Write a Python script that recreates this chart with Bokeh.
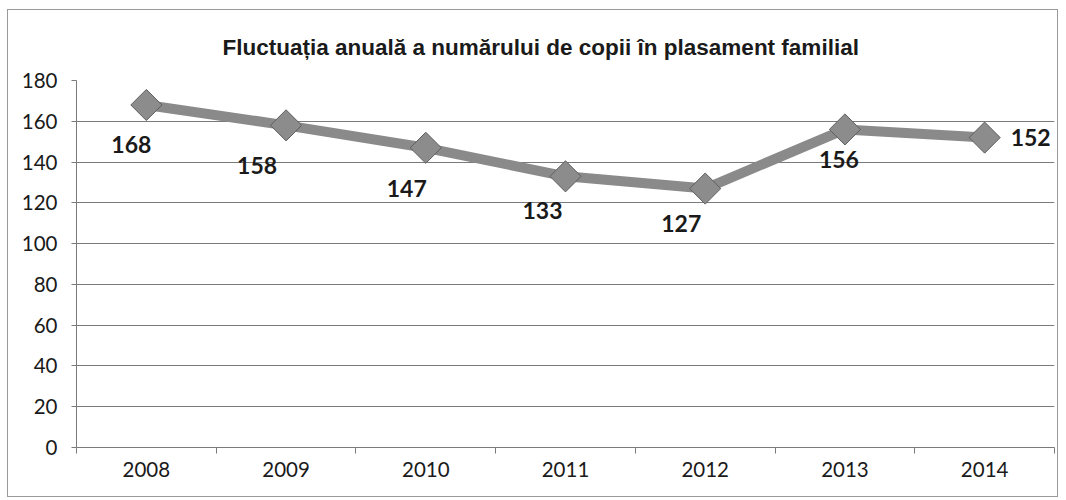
import math
from bokeh.plotting import figure
from bokeh.models import ColumnDataSource, FixedTicker, Range1d, LabelSet
from bokeh.core.properties import value
from bokeh.embed import file_html
from bokeh.resources import INLINE

years = ["2008", "2009", "2010", "2011", "2012", "2013", "2014"]
values = [168, 158, 147, 133, 127, 156, 152]
y_ticks = [0, 20, 40, 60, 80, 100, 120, 140, 160, 180]
# label placement offsets (screen px) relative to each point
label_dx = [-15, -29, -19, -23, -24, -6, 46]
label_dy = [-40, -40, -41, -34, -35, -30, 0]

xs = [i + 0.5 for i in range(len(years))]
src = ColumnDataSource(dict(x=xs, y=values, lbl=[str(v) for v in values],
                            dx=label_dx, dy=label_dy))

p = figure(width=1051, height=488, output_backend="svg", toolbar_location=None,
           x_range=Range1d(0, len(years)), y_range=Range1d(0, 180),
           min_border_left=68, min_border_right=5, min_border_top=70, min_border_bottom=51)
p.margin = (9, 0, 0, 7)
p.styles = {"border": "1px solid #9a9a9a"}
p.outline_line_color = None
p.background_fill_color = "white"

p.title.text = "Fluctuația anuală a numărului de copii în plasament familial"
p.title.text_font = "Liberation Sans"
p.title.text_font_style = "bold"
p.title.text_font_size = "22.5px"
p.title.text_color = "#1a1a1a"
p.title.align = "left"
p.title.offset = 146
p.title.standoff = 41

# axes
p.xaxis.ticker = FixedTicker(ticks=xs, minor_ticks=list(range(len(years) + 1)))
p.xaxis.major_label_overrides = {x: y for x, y in zip(xs, years)}
p.xaxis.major_tick_line_color = None
p.xaxis.minor_tick_line_color = "#7a7a7a"
p.xaxis.minor_tick_out = 6
p.xaxis.minor_tick_in = 0
p.xaxis.axis_line_color = "#7a7a7a"
p.xaxis.major_label_standoff = 8

p.yaxis.ticker = FixedTicker(ticks=y_ticks)
p.yaxis.minor_tick_line_color = None
p.yaxis.major_tick_line_color = "#7a7a7a"
p.yaxis.major_tick_out = 5
p.yaxis.major_tick_in = 0
p.yaxis.axis_line_color = "#7a7a7a"
p.yaxis.major_label_standoff = 14

for ax in (p.xaxis, p.yaxis):
    ax.major_label_text_font = "Lato"
    ax.major_label_text_font_size = "20.5px"
    ax.major_label_text_color = "#1a1a1a"

p.xgrid.grid_line_color = None
p.ygrid.grid_line_color = "#7a7a7a"
p.ygrid.grid_line_width = 1

p.line("x", "y", source=src, line_color="#8a8a8a", line_width=10, line_join="round")
p.scatter("x", "y", source=src, marker="square", angle=math.pi / 4, size=22,
          fill_color="#8c8c8c", line_color="#5e5e5e", line_width=1)

labels = LabelSet(x="x", y="y", text="lbl", source=src, x_offset="dx", y_offset="dy",
                  text_align="center", text_baseline="middle",
                  text_font=value("Lato"), text_font_style="bold",
                  text_font_size=value("23px"), text_color="#1a1a1a")
p.add_layout(labels)

open("out.html", "w").write(file_html(p, INLINE))
